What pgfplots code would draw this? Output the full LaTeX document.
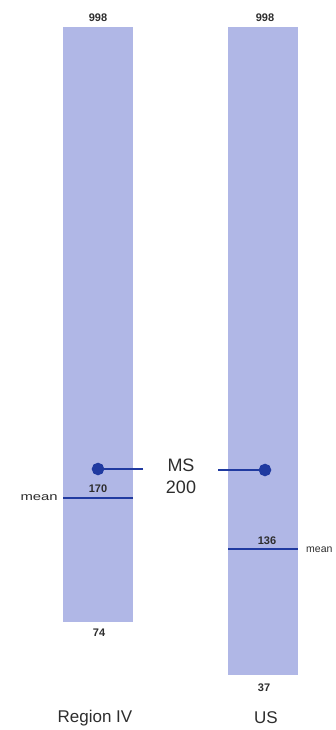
\documentclass[border=0pt]{standalone}
\usepackage{pgfplots}
\pgfplotsset{compat=1.18}
\usepackage{fontspec}
\setmainfont{Liberation Sans}
\definecolor{barfill}{RGB}{176,183,230}
\definecolor{navy}{RGB}{32,58,160}
\definecolor{txt}{RGB}{45,45,45}
\begin{document}
\begin{tikzpicture}
\begin{axis}[width=335pt,height=730pt,scale only axis,
  xmin=0,xmax=335,ymin=0,ymax=730,y dir=reverse,hide axis,clip=false]
% range bars (max 998, min 74 / 37) drawn at their scale positions
\addplot[fill=barfill,draw=none] coordinates {(63,27)(133,27)(133,622)(63,622)} -- cycle;
\addplot[fill=barfill,draw=none] coordinates {(228,27)(298,27)(298,675)(228,675)} -- cycle;
% means: Region IV 170, US 136
\addplot[navy,line width=2pt] coordinates {(63,498)(133,498)};
\addplot[navy,line width=2pt] coordinates {(228,549)(298,549)};
% MS 200 markers
\addplot[navy,line width=2.8pt,mark=*,mark size=4.8pt,mark indices={2}] coordinates {(143,469)(98,469)};
\addplot[navy,line width=2.8pt,mark=*,mark size=4.8pt,mark indices={2}] coordinates {(218,470)(265,470)};
% labels
\node[txt,font=\fontsize{11}{11}\selectfont\bfseries] at (axis cs:98,18) {998};
\node[txt,font=\fontsize{11}{11}\selectfont\bfseries] at (axis cs:265,18) {998};
\node[txt,font=\fontsize{11}{11}\selectfont\bfseries] at (axis cs:98,489) {170};
\node[txt,font=\fontsize{11}{11}\selectfont\bfseries] at (axis cs:267,541) {136};
\node[txt,font=\fontsize{11}{11}\selectfont\bfseries] at (axis cs:99,633) {74};
\node[txt,font=\fontsize{11}{11}\selectfont\bfseries] at (axis cs:264,688) {37};
\node[txt,font=\fontsize{11}{11}\selectfont,anchor=east,xscale=1.35,inner sep=0pt] at (axis cs:58,498) {mean};
\node[txt,font=\fontsize{10.5}{11}\selectfont,anchor=west,inner sep=0pt] at (axis cs:306,550) {mean};
\node[txt,font=\fontsize{18}{22}\selectfont,align=center] at (axis cs:181,476) {MS\\200};
\node[txt,font=\fontsize{17}{17}\selectfont] at (axis cs:95,718) {Region IV};
\node[txt,font=\fontsize{17}{17}\selectfont] at (axis cs:266,718) {US};
\end{axis}
\pgfresetboundingbox
\path[use as bounding box] (current axis.south west) rectangle (current axis.north east);
\end{tikzpicture}
\end{document}
